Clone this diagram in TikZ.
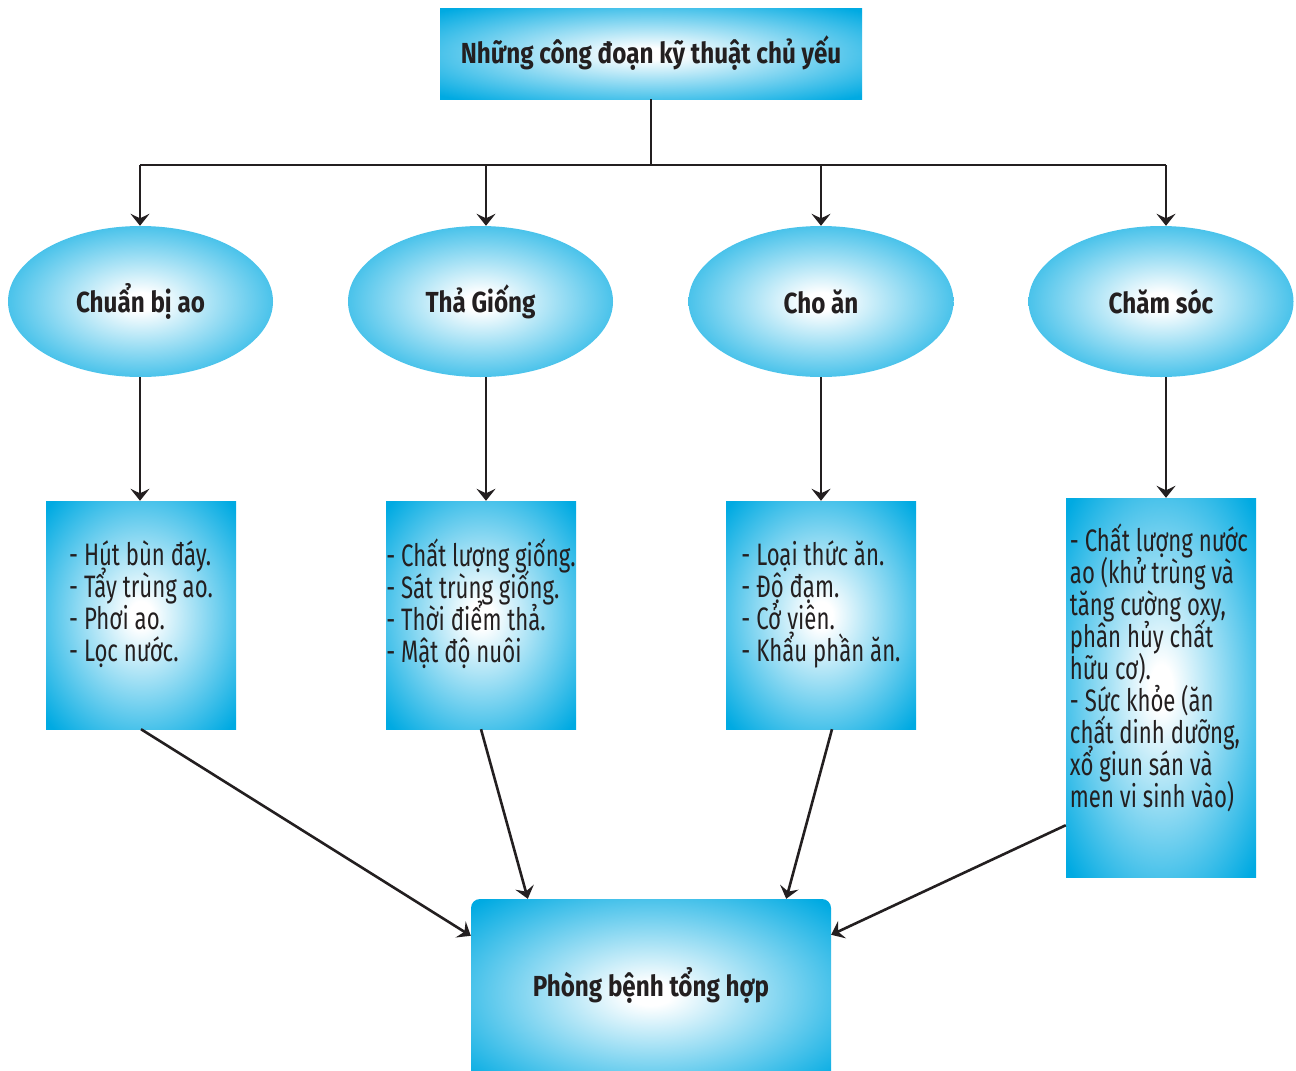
\documentclass[tikz,border=0pt]{standalone}
\usepackage{fontspec}
\setmainfont{Fira Sans}[FakeStretch=0.835]
\newfontfamily\bodyfont{Fira Sans}[FakeStretch=0.715]
\newcommand\bodysetup{\bodyfont\fontsize{31}{32}\selectfont\lineskiplimit=-60pt\relax}
\usetikzlibrary{arrows.meta,shapes.geometric,calc}
\definecolor{cy}{RGB}{0,170,226}
\definecolor{ink}{RGB}{35,31,32}
\pgfdeclareradialshading{glow}{\pgfpoint{0bp}{0bp}}{color(0bp)=(white); color(3bp)=(white); color(20bp)=(cy!55!white); color(34bp)=(cy); color(90bp)=(cy)}
\begin{document}
\begin{tikzpicture}[x=1pt,y=-1pt,
 glowbox/.style={shading=glow, draw=none, inner sep=0pt, text=ink},
 rectbox/.style={glowbox, rectangle, minimum width=190pt, minimum height=228pt},
 titlefont/.style={font=\bfseries\fontsize{29}{32}\selectfont},
 oval/.style={glowbox, ellipse, minimum width=265pt, minimum height=151pt, titlefont},
 body/.style={align=left, font=\bodysetup, text=ink, inner sep=0pt},
 arr/.style={draw=ink, line width=2.6pt, -{Stealth[length=12pt,width=19pt,inset=4.5pt]}},
 ln/.style={draw=ink, line width=2.6pt}]
\useasboundingbox (0,0) rectangle (1296,1071);
\clip (0,0) rectangle (1296,1071);

\node[glowbox, minimum width=422pt, minimum height=91pt, titlefont] (top) at (651,53.5) {Những công đoạn kỹ thuật chủ yếu};

\node[oval] (e1) at (140.5,301.5) {Chuẩn bị ao};
\node[oval] (e2) at (480.5,301.5) {Thả Giống};
\node[oval] (e3) at (821,301.5) {Cho ăn};
\node[oval] (e4) at (1161,301.5) {Chăm sóc};

\node[rectbox] (b1) at (141,615) {};
\node[rectbox] (b2) at (481,615) {};
\node[rectbox] (b3) at (821,615) {};
\node[rectbox, minimum height=379pt] (b4) at (1161,687.5) {};

\node[body] (t1) at (141,604) {- Hút bùn đáy.\\- Tẩy trùng ao.\\- Phơi ao.\\- Lọc nước.};
\node[body] (t2) at (481,604) {- Chất lượng giống.\\- Sát trùng giống.\\- Thời điểm thả.\\- Mật độ nuôi};
\node[body] (t3) at (821,604) {- Loại thức ăn.\\- Độ đạm.\\- Cở viên.\\- Khẩu phần ăn.};
\node[body] (t4) at (1159,668) {- Chất lượng nước\\ao (khử trùng và\\tăng cường oxy,\\phân hủy chất\\hữu cơ).\\- Sức khỏe (ăn\\chất dinh dưỡng,\\xổ giun sán và\\men vi sinh vào)};

\node[glowbox, rounded corners=9pt, minimum width=360pt, minimum height=190pt] (bot) at (651,994) {};
\node[inner sep=0pt, text=ink, titlefont] (bt) at (651,985) {Phòng bệnh tổng hợp};

\coordinate (j) at (651,165);
\coordinate (j1) at (140,165);
\coordinate (j2) at (486,165);
\coordinate (j3) at (821,165);
\coordinate (j4) at (1166,165);
\draw[ln] (top.south) -- (j);
\draw[ln] (j1) -- (j4);
\draw[arr] (j1) -- (j1 |- e1.north);
\draw[arr] (j2) -- (j2 |- e2.north);
\draw[arr] (j3) -- (j3 |- e3.north);
\draw[arr] (j4) -- (j4 |- e4.north);

\draw[arr] (j1 |- e1.south) -- (j1 |- b1.north);
\draw[arr] (j2 |- e2.south) -- (j2 |- b2.north);
\draw[arr] (j3 |- e3.south) -- (j3 |- b3.north);
\draw[arr] (j4 |- e4.south) -- (j4 |- b4.north);

\draw[arr] (b1.south) -- ($(bot.north west)+(0,37)$);
\draw[arr] (b2.south) -- ($(bot.north west)+(57,0)$);
\draw[arr] ($(b3.south)+(11,0)$) -- ($(bot.north east)+(-45,0)$);
\draw[arr] ($(b4.south west)+(0,-52)$) -- ($(bot.north east)+(0,36)$);
\end{tikzpicture}
\end{document}
